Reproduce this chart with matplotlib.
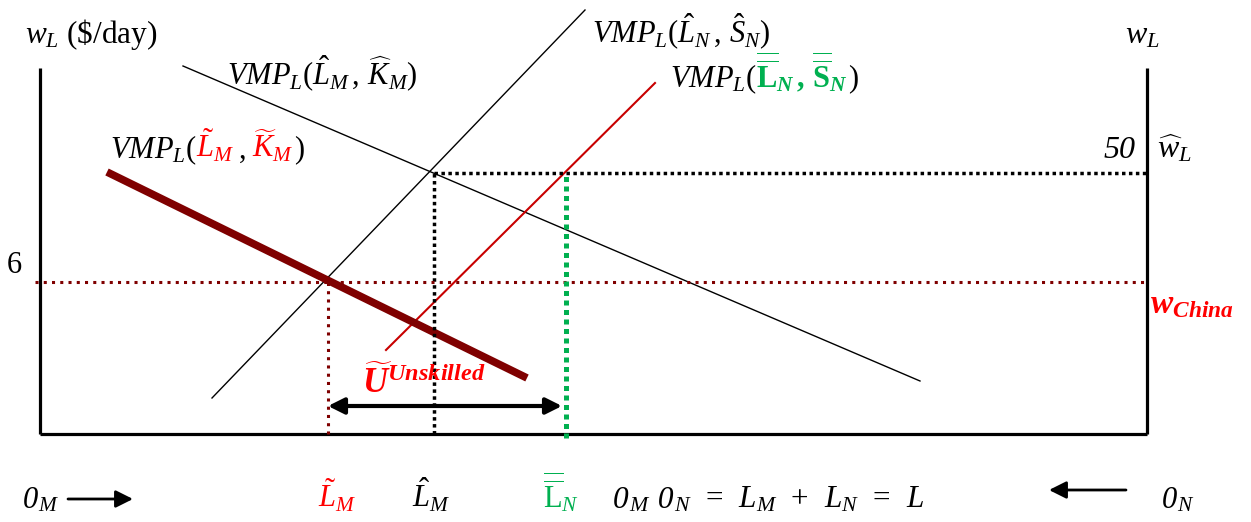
import matplotlib
matplotlib.use('Agg')
import matplotlib.pyplot as plt
from matplotlib.transforms import offset_copy

plt.rcParams['font.family'] = 'Liberation Serif'
plt.rcParams['mathtext.fontset'] = 'custom'
plt.rcParams['mathtext.rm'] = 'Liberation Serif'
plt.rcParams['mathtext.it'] = 'Liberation Serif:italic'
plt.rcParams['mathtext.bf'] = 'Liberation Serif:bold'
plt.rcParams['mathtext.bfit'] = 'Liberation Serif:italic:bold'

# labour runs from 0_M (left wall) to 0_N (right wall), wage up the side
L_total = 1107
w_top = 366

# VMP schedules, as end points (labour, wage)
vmp_m_hat_x = [143, 880]
vmp_m_hat_y = [368, 53]
vmp_n_hat_x = [172, 545]
vmp_n_hat_y = [36, 424]
vmp_n_bar_x = [346, 615]
vmp_n_bar_y = [84, 351]
vmp_m_tilde_x = [67, 487]
vmp_m_tilde_y = [262, 56]

# equilibria
w_hat = 261
L_hat_M = 394
w_china = 152
L_tilde_M = 288
L_bar_N = 526

RED = '#ff0000'
DARKRED = '#7f0000'
LINERED = '#c80000'
GREEN = '#00b050'

fig = plt.figure(figsize=(12.51, 5.22), dpi=100)
ax = fig.add_axes([0, 0, 1, 1])
ax.set_xlim(-40, 1211)
ax.set_ylim(-88, 434)
ax.axis('off')

# box walls
ax.plot([0, 0], [0, w_top], color='black', lw=2.3, solid_capstyle='butt')
ax.plot([L_total, L_total], [0, w_top], color='black', lw=2.3, solid_capstyle='butt')
ax.plot([0, L_total], [0, 0], color='black', lw=2.3, solid_capstyle='butt')

# curves
ax.plot(vmp_m_hat_x, vmp_m_hat_y, color='black', lw=1.0)
ax.plot(vmp_n_hat_x, vmp_n_hat_y, color='black', lw=1.0)
ax.plot(vmp_n_bar_x, vmp_n_bar_y, color=LINERED, lw=1.5)
ax.plot(vmp_m_tilde_x, vmp_m_tilde_y, color=DARKRED, lw=5.5, solid_capstyle='butt')

# dotted guides
ax.plot([L_hat_M, L_total], [w_hat, w_hat], color='black', lw=2.5, dashes=(1, 1))
ax.plot([L_hat_M, L_hat_M], [0, w_hat], color='black', lw=2.5, dashes=(1, 1))
ax.plot([-5, L_total], [w_china, w_china], color=DARKRED, lw=2.2, dashes=(1, 1.7))
ax.plot([L_tilde_M, L_tilde_M], [0, w_china], color=DARKRED, lw=2.2, dashes=(1, 1.7))
ax.plot([L_bar_N, L_bar_N], [-4, w_hat], color=GREEN, lw=3.6, dashes=(1, 0.9))

# unemployment span
ax.annotate('', xy=(L_bar_N - 4, 28), xytext=(L_tilde_M, 28),
            arrowprops=dict(arrowstyle='<|-|>', lw=3, color='black',
                            mutation_scale=24, shrinkA=0, shrinkB=0))

# direction arrows under the box
ax.annotate('', xy=(93, -65), xytext=(28, -65),
            arrowprops=dict(arrowstyle='-|>', lw=2, color='black',
                            mutation_scale=26, shrinkA=0, shrinkB=0))
ax.annotate('', xy=(1009, -56), xytext=(1086, -56),
            arrowprops=dict(arrowstyle='-|>', lw=2, color='black',
                            mutation_scale=26, shrinkA=0, shrinkB=0))

fig.canvas.draw()
renderer = fig.canvas.get_renderer()


def put(x, y, parts, size=22):
    # pieces of different colour/style laid one after another on one baseline
    dx = 0
    for part in parts:
        s, c = part[0], part[1]
        extra = part[2] if len(part) > 2 else {}
        tr = offset_copy(ax.transData, fig=fig, x=dx, y=0, units='dots')
        t = ax.text(x, y, s, color=c, fontsize=size, ha='left', va='baseline',
                    transform=tr, **extra)
        dx += t.get_window_extent(renderer).width


ITAL = {'style': 'italic'}

put(-15, 391, [(r'$w_L$ (\$/day)', 'black')], size=22.5)
put(1085, 391, [(r'$w_L$', 'black')], size=23)
put(187, 349, [(r'$VMP_L(\hat{L}_M\,,\,\widehat{K}_M)$', 'black')])
put(552, 391, [(r'$VMP_L(\hat{L}_N\,,\,\hat{S}_N)$', 'black')])
put(630, 347, [(r'$VMP_L($', 'black'),
               (r'$\overline{\overline{\mathbf{L}}}_\mathbfit{N}\mathbf{\,,\,}'
                r'\overline{\overline{\mathbf{S}}}_\mathbfit{N}$', GREEN),
               (r'$)$', 'black')])
put(70, 276, [(r'$VMP_L($', 'black'),
              (r'$\tilde{L}_M$', RED),
              (r'$\,,$', 'black'),
              (r'$\;\widetilde{K}_M$', RED),
              (r'$)$', 'black')])
put(1063, 276, [('50', 'black', ITAL)], size=23)
put(1117, 276, [(r'$\widehat{w}_L$', 'black')], size=23)
put(-33, 161, [('6', 'black')])
put(1110, 121, [(r'$\mathbfit{w}_{\mathbfit{China}}$', RED)], size=24)
put(322, 41, [(r'$\mathbfit{\widetilde{U}}^{\mathbfit{Unskilled}}$', RED)], size=25)

# bottom row
put(-17, -74, [('0', 'black', ITAL), (r'$_M$', 'black')])
put(278, -74, [(r'$\tilde{L}_M$', RED)])
put(372, -74, [(r'$\hat{L}_M$', 'black')])
put(503, -74, [(r'$\overline{\overline{\mathrm{L}}}_N$', GREEN)])
put(573, -74, [('0', 'black', ITAL), (r'$_M$', 'black'),
               (' 0', 'black', ITAL),
               (r'$_N\ \,=\ \,L_M\ \,+\ \,L_N\ \,=\ \,L$', 'black')],
    size=22.5)
put(1122, -74, [('0', 'black', ITAL), (r'$_N$', 'black')])

fig.savefig('out.png', dpi=100)
